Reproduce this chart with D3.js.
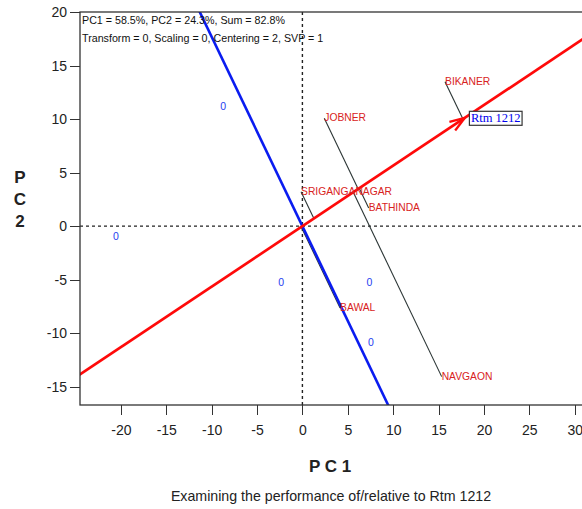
<!DOCTYPE html>
<meta charset="utf-8">
<head>
    <style>
        body {
            margin: 0;
            background: #fff;
            font-family: Arial, 'Liberation Sans', sans-serif;
        }

        .axis path,
        .axis line {
            fill: none;
            stroke: #333;
            shape-rendering: crispEdges;
        }

        .axis text {
            font-size: 14px;
            fill: #222;
        }
    </style>
</head>

<body>
    <svg id="biplot"></svg>

    <script src="https://cdn.jsdelivr.net/npm/d3@7/dist/d3.min.js"></script>
    <script>

        // environments (red labels)
        var envNames = ["BIKANER", "JOBNER", "SRIGANGANAGAR", "BATHINDA", "BAWAL", "NAVGAON"];
        var envPC1 = [15.71, 2.41, -0.15, 7.3, 4.15, 15.34];
        var envPC2 = [13.49, 10.08, 3.22, 1.7, -7.64, -14.05];

        // genotypes (blue markers)
        var genoLabels = ["0", "0", "0", "0", "0"];
        var genoPC1 = [-8.72, -20.54, -2.35, 7.39, 7.54];
        var genoPC2 = [11.2, -0.91, -5.26, -5.26, -10.87];

        // the genotype being examined
        var focusName = "Rtm 1212";
        var focusPC1 = 17.9;
        var focusPC2 = 10.12;

        var xTicks = [-20, -15, -10, -5, 0, 5, 10, 15, 20, 25, 30];
        var yTicks = [-15, -10, -5, 0, 5, 10, 15, 20];

        var infoLines = [
            "PC1 = 58.5%, PC2 = 24.3%, Sum = 82.8%",
            "Transform = 0, Scaling = 0, Centering = 2, SVP = 1"
        ];
        var caption = "Examining the performance of/relative to Rtm 1212";

        var W = 582, H = 509;
        var pLeft = 80, pRight = 582, pTop = 12, pBottom = 405;

        var svg = d3.select("#biplot")
            .attr("width", W)
            .attr("height", H);

        var x = d3.scaleLinear().domain([-24.5, 30.8]).range([pLeft, pRight]);
        var y = d3.scaleLinear().domain([-16.7, 20]).range([pBottom, pTop]);

        svg.append("clipPath").attr("id", "plotclip")
            .append("rect")
            .attr("x", pLeft).attr("y", pTop)
            .attr("width", pRight - pLeft).attr("height", pBottom - pTop);

        var plot = svg.append("g").attr("clip-path", "url(#plotclip)");

        // dashed zero lines
        plot.append("line")
            .attr("x1", pLeft).attr("x2", pRight)
            .attr("y1", y(0)).attr("y2", y(0))
            .attr("stroke", "#222").attr("stroke-width", 1.4)
            .attr("stroke-dasharray", "3,3");
        plot.append("line")
            .attr("x1", x(0)).attr("x2", x(0))
            .attr("y1", pTop).attr("y2", pBottom)
            .attr("stroke", "#222").attr("stroke-width", 1.4)
            .attr("stroke-dasharray", "3,3");

        // unit vector of the focus genotype (data space)
        var len = Math.sqrt(focusPC1 * focusPC1 + focusPC2 * focusPC2);
        var ux = focusPC1 / len, uy = focusPC2 / len;
        var far = 60;

        // projection lines from each environment onto the genotype axis
        var envData = envNames.map(function (n, i) {
            return { name: n, pc1: envPC1[i], pc2: envPC2[i] };
        });
        plot.selectAll(".proj")
            .data(envData)
            .enter()
            .append("line")
            .attr("class", "proj")
            .attr("x1", function (d) { return x(d.pc1); })
            .attr("y1", function (d) { return y(d.pc2); })
            .attr("x2", function (d) { var p = d.pc1 * ux + d.pc2 * uy; return x(p * ux); })
            .attr("y2", function (d) { var p = d.pc1 * ux + d.pc2 * uy; return y(p * uy); })
            .attr("stroke", "#2b3535")
            .attr("stroke-width", 1.1);

        // blue axis, perpendicular through the origin
        plot.append("line")
            .attr("x1", x(far * uy)).attr("y1", y(-far * ux))
            .attr("x2", x(-far * uy)).attr("y2", y(far * ux))
            .attr("stroke", "#0a1cf0").attr("stroke-width", 2.6);

        // red axis through the origin and the focus genotype
        plot.append("line")
            .attr("x1", x(-far * ux)).attr("y1", y(-far * uy))
            .attr("x2", x(far * ux)).attr("y2", y(far * uy))
            .attr("stroke", "#ff0a0a").attr("stroke-width", 2.7);

        // arrow head at the focus genotype
        var tx = x(focusPC1), ty = y(focusPC2);
        var ang = Math.atan2(y(focusPC2) - y(0), x(focusPC1) - x(0));
        [0.33, -0.33].forEach(function (a) {
            plot.append("line")
                .attr("x1", tx).attr("y1", ty)
                .attr("x2", tx - 16 * Math.cos(ang + a))
                .attr("y2", ty - 16 * Math.sin(ang + a))
                .attr("stroke", "#ff0a0a").attr("stroke-width", 2.3);
        });

        // genotype markers
        plot.selectAll(".geno")
            .data(genoLabels)
            .enter()
            .append("text")
            .attr("class", "geno")
            .attr("x", function (d, i) { return x(genoPC1[i]); })
            .attr("y", function (d, i) { return y(genoPC2[i]) + 3.7; })
            .attr("text-anchor", "middle")
            .style("font-size", "10.5px")
            .style("fill", "#1f3df0")
            .text(function (d) { return d; });

        // environment labels
        plot.selectAll(".env")
            .data(envData)
            .enter()
            .append("text")
            .attr("class", "env")
            .attr("x", function (d) { return x(d.pc1); })
            .attr("y", function (d) { return y(d.pc2) + 3; })
            .style("font-size", "10.3px")
            .style("fill", "#d82222")
            .text(function (d) { return d.name; });

        // focus genotype label in a box
        var fl = plot.append("g");
        var ft = fl.append("text")
            .attr("x", tx + 6)
            .attr("y", ty + 4)
            .style("font-family", "'Liberation Serif', 'Times New Roman', serif")
            .style("font-size", "12.5px")
            .style("fill", "#0000ee")
            .text(focusName);
        var bb = ft.node().getBBox();
        fl.insert("rect", "text")
            .attr("x", bb.x - 1.5).attr("y", bb.y + 0.5)
            .attr("width", bb.width + 3).attr("height", bb.height)
            .attr("fill", "#fff")
            .attr("stroke", "#333").attr("stroke-width", 1.2);

        // frame
        svg.append("rect")
            .attr("x", pLeft).attr("y", pTop)
            .attr("width", pRight - pLeft + 5).attr("height", pBottom - pTop)
            .attr("fill", "none")
            .attr("stroke", "#333").attr("stroke-width", 1.3);

        // axes
        var fmt = function (d) { return String(d); };
        svg.append("g")
            .attr("class", "axis")
            .attr("transform", "translate(0," + pBottom + ")")
            .call(d3.axisBottom(x).tickValues(xTicks).tickFormat(fmt).tickSize(10).tickPadding(10))
            .call(function (g) { g.select(".domain").remove(); });

        svg.append("g")
            .attr("class", "axis")
            .attr("transform", "translate(" + pLeft + ",0)")
            .call(d3.axisLeft(y).tickValues(yTicks).tickFormat(fmt).tickSize(10).tickPadding(3))
            .call(function (g) { g.select(".domain").remove(); });

        // info text
        svg.selectAll(".info")
            .data(infoLines)
            .enter()
            .append("text")
            .attr("x", 82)
            .attr("y", function (d, i) { return 24 + i * 18; })
            .style("font-size", "10.7px")
            .style("fill", "#111")
            .text(function (d) { return d; });

        // axis titles
        svg.append("text")
            .attr("x", 330).attr("y", 472)
            .attr("text-anchor", "middle")
            .style("font-size", "17px").style("font-weight", "bold")
            .style("fill", "#222")
            .text("P C 1");

        svg.selectAll(".ylab")
            .data(["P", "C", "2"])
            .enter()
            .append("text")
            .attr("x", 20)
            .attr("y", function (d, i) { return 183 + i * 22; })
            .attr("text-anchor", "middle")
            .style("font-size", "17px").style("font-weight", "bold")
            .style("fill", "#222")
            .text(function (d) { return d; });

        svg.append("text")
            .attr("x", 331).attr("y", 501)
            .attr("text-anchor", "middle")
            .style("font-size", "14.2px")
            .style("fill", "#222")
            .text(caption);

    </script>
</body>
